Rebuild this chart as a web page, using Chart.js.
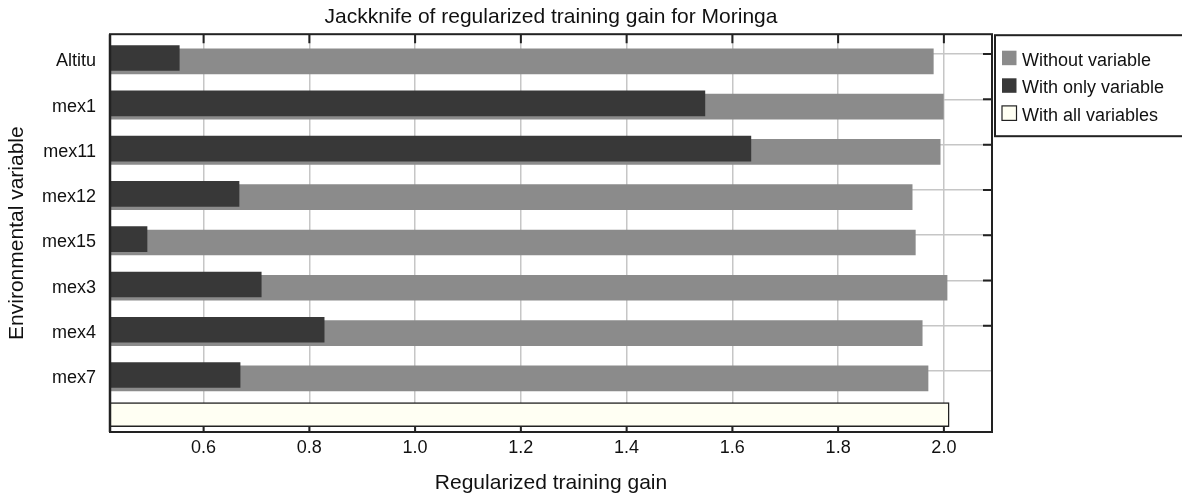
<!DOCTYPE html>
<html>
<head>
<meta charset="utf-8">
<title>Jackknife of regularized training gain for Moringa</title>
<script src="https://cdn.jsdelivr.net/npm/chart.js@4.4.0/dist/chart.umd.min.js"></script>
<style>
  html, body { margin: 0; padding: 0; background: #ffffff; }
  #wrap { width: 1182px; height: 496px; }
</style>
</head>
<body>
<div id="wrap"><canvas id="chart"></canvas></div>
<script>
// Values
const variables = ['Altitu', 'mex1', 'mex11', 'mex12', 'mex15', 'mex3', 'mex4', 'mex7'];
const withoutVariable = [1.980, 1.999, 1.993, 1.940, 1.946, 2.006, 1.959, 1.970];
const withOnlyVariable = [0.554, 1.548, 1.635, 0.667, 0.493, 0.709, 0.828, 0.669];
const withAllVariables = 2.010;
const xTicks = [0.6, 0.8, 1.0, 1.2, 1.4, 1.6, 1.8, 2.0];

// Colours
const GRAY = '#8b8b8b';
const DARK = '#383838';
const IVORY = '#fffff3';
const INK = '#111111';
const FRAME = '#222222';
const GRID = '#c6c6c6';
const FONT = "'Liberation Sans', Arial, Helvetica, sans-serif";

// the "all variables" row sits a bit closer to the last variable
const allRow = variables.length - 0.2;

// row index range of the plot (reversed: first variable on top)
const rowMin = -0.599;
const rowMax = 8.185;
const darkShift = 0.073;   // dark bars sit a few px higher
const gridShift = 0.160;   // grid lines sit above the row centre

function rowTicks(scale) {
  scale.ticks = variables.map((_, i) => ({ value: i }));
}

const framePlugin = {
  id: 'frame',
  afterDraw(chart) {
    const { ctx, chartArea: a, scales } = chart;
    ctx.save();
    ctx.strokeStyle = FRAME;

    // plot frame
    ctx.lineWidth = 2;
    ctx.strokeRect(a.left, a.top, a.right - a.left, a.bottom - a.top);
    ctx.lineWidth = 2.5;
    ctx.beginPath();
    ctx.moveTo(a.left, a.top);
    ctx.lineTo(a.left, a.bottom);
    ctx.stroke();

    // inward ticks on top and bottom edges
    ctx.lineWidth = 2;
    ctx.beginPath();
    scales.x.ticks.forEach(t => {
      const px = scales.x.getPixelForValue(t.value);
      ctx.moveTo(px, a.top);
      ctx.lineTo(px, a.top + 9);
      ctx.moveTo(px, a.bottom - 5);
      ctx.lineTo(px, a.bottom);
    });
    // inward ticks on the right edge
    scales.y3.ticks.slice(0, -1).forEach(t => {
      const py = scales.y3.getPixelForValue(t.value);
      ctx.moveTo(a.right - 9, py);
      ctx.lineTo(a.right, py);
    });
    ctx.stroke();

    // legend box
    const lx = a.right + 3;
    ctx.lineWidth = 2;
    ctx.strokeRect(lx, a.top + 1, 220, 101);

    const items = [
      chart.data.datasets[1],
      chart.data.datasets[0],
      chart.data.datasets[2]
    ];
    ctx.font = '18px ' + FONT;
    ctx.textBaseline = 'alphabetic';
    ctx.textAlign = 'left';
    items.forEach((ds, k) => {
      const top = a.top + 16.5 + k * 27.6;
      ctx.fillStyle = ds.backgroundColor;
      ctx.fillRect(lx + 7, top, 14.5, 14.5);
      if (ds.borderWidth) {
        ctx.lineWidth = 1.2;
        ctx.strokeStyle = FRAME;
        ctx.strokeRect(lx + 7, top, 14.5, 14.5);
      }
      ctx.fillStyle = INK;
      ctx.fillText(ds.label, lx + 27, top + 15);
    });
    ctx.restore();
  }
};

new Chart(document.getElementById('chart'), {
  type: 'bar',
  data: {
    datasets: [
      {
        label: 'With only variable',
        data: withOnlyVariable.map((v, i) => ({ x: v, y: i })),
        yAxisID: 'y2',
        backgroundColor: DARK,
        barThickness: 25,
        grouped: false,
        order: 0
      },
      {
        label: 'Without variable',
        data: withoutVariable.map((v, i) => ({ x: v, y: i })),
        yAxisID: 'y',
        backgroundColor: GRAY,
        barThickness: 25,
        grouped: false,
        order: 1
      },
      {
        label: 'With all variables',
        data: [{ x: withAllVariables, y: allRow }],
        yAxisID: 'y',
        backgroundColor: IVORY,
        borderColor: FRAME,
        borderWidth: 1.5,
        barThickness: 24,
        grouped: false,
        order: 2
      }
    ]
  },
  options: {
    indexAxis: 'y',
    responsive: true,
    maintainAspectRatio: false,
    animation: false,
    events: [],
    layout: { padding: { left: 0, right: 190, top: 0, bottom: 0 } },
    plugins: {
      legend: { display: false },
      tooltip: { enabled: false },
      title: {
        display: true,
        text: 'Jackknife of regularized training gain for Moringa',
        fullSize: false,
        color: INK,
        font: { family: FONT, size: 21, weight: 'normal' },
        padding: { top: 5, bottom: 4 }
      }
    },
    scales: {
      x: {
        type: 'linear',
        position: 'bottom',
        min: 0.423,
        max: 2.091,
        afterBuildTicks: scale => { scale.ticks = xTicks.map(v => ({ value: v })); },
        afterFit: scale => { scale.height = 64; },
        grid: { color: GRID, lineWidth: 1.5, drawTicks: false },
        border: { display: false },
        ticks: {
          color: INK,
          padding: 5,
          font: { family: FONT, size: 18 },
          callback: v => v.toFixed(1)
        },
        title: {
          display: true,
          text: 'Regularized training gain',
          color: INK,
          font: { family: FONT, size: 21 },
          padding: { top: 0, bottom: 0 }
        }
      },
      y: {
        type: 'linear',
        position: 'left',
        reverse: true,
        offset: false,
        min: rowMin,
        max: rowMax,
        afterBuildTicks: rowTicks,
        afterFit: scale => { scale.width = 110; },
        grid: { display: false, drawTicks: false, offset: false },
        border: { display: false },
        ticks: {
          color: INK,
          padding: 14,
          font: { family: FONT, size: 18 },
          callback: v => variables[v]
        },
        title: {
          display: true,
          text: 'Environmental variable',
          color: INK,
          font: { family: FONT, size: 21 },
          padding: { top: 5, bottom: 0 }
        }
      },
      y2: {
        type: 'linear',
        display: false,
        reverse: true,
        offset: false,
        min: rowMin + darkShift,
        max: rowMax + darkShift
      },
      y3: {
        type: 'linear',
        position: 'left',
        reverse: true,
        offset: false,
        min: rowMin + gridShift,
        max: rowMax + gridShift,
        afterBuildTicks: rowTicks,
        afterFit: scale => { scale.width = 0; },
        grid: { color: GRID, lineWidth: 1.5, drawTicks: false, offset: false },
        border: { display: false },
        ticks: { display: false }
      }
    }
  },
  plugins: [framePlugin]
});
</script>
</body>
</html>
